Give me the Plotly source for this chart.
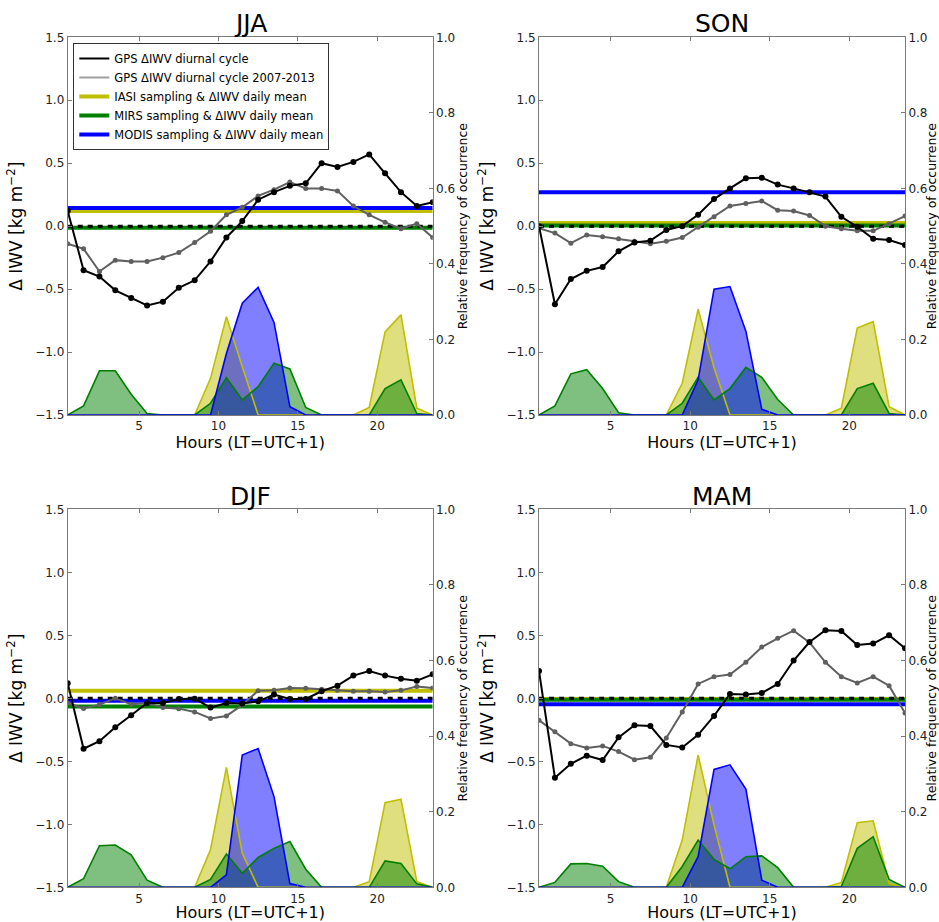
import plotly.graph_objects as go

hours = [0.5 + k for k in range(24)]
seasons = ["JJA", "SON", "DJF", "MAM"]

# GPS ΔIWV diurnal cycle (black)
gps = {
    "JJA": [0.12, -0.35, -0.40, -0.51, -0.57, -0.63, -0.60, -0.49, -0.43, -0.28, -0.09, 0.04,
            0.21, 0.27, 0.32, 0.34, 0.50, 0.47, 0.51, 0.57, 0.42, 0.27, 0.16, 0.19],
    "SON": [0.00, -0.62, -0.42, -0.355, -0.325, -0.20, -0.13, -0.115, -0.03, 0.00, 0.09, 0.215,
            0.30, 0.38, 0.385, 0.33, 0.30, 0.27, 0.235, 0.074, -0.005, -0.10, -0.11, -0.15],
    "DJF": [0.12, -0.40, -0.34, -0.23, -0.135, -0.037, -0.037, -0.005, -0.003, -0.074, -0.037, -0.042,
            -0.024, 0.03, -0.005, -0.005, 0.056, 0.10, 0.18, 0.217, 0.18, 0.156, 0.14, 0.19],
    "MAM": [0.217, -0.63, -0.52, -0.455, -0.49, -0.31, -0.214, -0.22, -0.37, -0.39, -0.29, -0.14,
            0.034, 0.03, 0.042, 0.114, 0.30, 0.447, 0.54, 0.534, 0.423, 0.434, 0.50, 0.397],
}

# GPS ΔIWV diurnal cycle 2007-2013 (gray)
gps0713 = {
    "JJA": [-0.14, -0.18, -0.36, -0.27, -0.28, -0.28, -0.25, -0.21, -0.13, -0.04, 0.09, 0.15,
            0.24, 0.29, 0.35, 0.30, 0.30, 0.28, 0.16, 0.09, 0.03, -0.02, 0.02, -0.09],
    "SON": [-0.016, -0.055, -0.135, -0.07, -0.085, -0.10, -0.12, -0.14, -0.12, -0.09, -0.008, 0.074,
            0.16, 0.18, 0.20, 0.127, 0.12, 0.085, 0.0, -0.02, -0.037, -0.037, 0.02, 0.08],
    "DJF": [-0.037, -0.08, -0.05, 0.0, -0.048, -0.037, -0.074, -0.082, -0.108, -0.16, -0.14, -0.053,
            0.06, 0.063, 0.082, 0.08, 0.071, 0.063, 0.056, 0.056, 0.05, 0.063, 0.093, 0.082],
    "MAM": [-0.175, -0.265, -0.36, -0.394, -0.378, -0.423, -0.487, -0.468, -0.315, -0.108, 0.114, 0.172,
            0.188, 0.286, 0.407, 0.476, 0.537, 0.444, 0.286, 0.172, 0.122, 0.172, 0.10, -0.116],
}

# sampling-weighted ΔIWV daily means
iasi_mean = {"JJA": 0.12, "SON": 0.025, "DJF": 0.06, "MAM": -0.005}
mirs_mean = {"JJA": -0.013, "SON": 0.005, "DJF": -0.066, "MAM": -0.012}
modis_mean = {"JJA": 0.145, "SON": 0.27, "DJF": -0.02, "MAM": -0.048}

# relative frequency of occurrence of satellite overpasses
iasi_freq = {
    "JJA": [0, 0, 0, 0, 0, 0, 0, 0, 0, 0.097, 0.26, 0.128, 0, 0, 0, 0, 0, 0, 0, 0.02, 0.22, 0.265, 0.018, 0],
    "SON": [0, 0, 0, 0, 0, 0, 0, 0, 0, 0.084, 0.28, 0.125, 0, 0, 0, 0, 0, 0, 0, 0.018, 0.23, 0.247, 0.022, 0],
    "DJF": [0, 0, 0, 0, 0, 0, 0, 0, 0, 0.10, 0.317, 0.09, 0, 0, 0, 0, 0, 0, 0, 0.015, 0.224, 0.233, 0.015, 0],
    "MAM": [0, 0, 0, 0, 0, 0, 0, 0, 0, 0.125, 0.35, 0.165, 0, 0, 0, 0, 0, 0, 0, 0.013, 0.171, 0.176, 0.01, 0],
}
mirs_freq = {
    "JJA": [0, 0.024, 0.117, 0.117, 0.055, 0.004, 0, 0, 0, 0.031, 0.099, 0.04, 0.075, 0.137, 0.122, 0.02,
            0, 0, 0, 0, 0.07, 0.093, 0.004, 0],
    "SON": [0, 0.024, 0.109, 0.12, 0.07, 0.006, 0, 0, 0, 0.031, 0.10, 0.04, 0.07, 0.126, 0.10, 0.041,
            0, 0, 0, 0, 0.07, 0.084, 0.004, 0],
    "DJF": [0, 0.023, 0.11, 0.112, 0.086, 0.019, 0, 0, 0, 0.021, 0.088, 0.037, 0.079, 0.103, 0.121, 0.048,
            0, 0, 0, 0, 0.07, 0.063, 0.009, 0],
    "MAM": [0, 0.013, 0.062, 0.063, 0.056, 0.015, 0, 0, 0, 0.055, 0.125, 0.074, 0.049, 0.081, 0.083, 0.052,
            0, 0, 0, 0.002, 0.103, 0.134, 0.021, 0],
}
modis_freq = {
    "JJA": [0, 0, 0, 0, 0, 0, 0, 0, 0, 0, 0.163, 0.296, 0.338, 0.245, 0.022, 0, 0, 0, 0, 0, 0, 0, 0, 0],
    "SON": [0, 0, 0, 0, 0, 0, 0, 0, 0, 0, 0.093, 0.333, 0.34, 0.222, 0.015, 0, 0, 0, 0, 0, 0, 0, 0, 0],
    "DJF": [0, 0, 0, 0, 0, 0, 0, 0, 0, 0, 0.033, 0.35, 0.367, 0.24, 0.01, 0, 0, 0, 0, 0, 0, 0, 0, 0],
    "MAM": [0, 0, 0, 0, 0, 0, 0, 0, 0, 0, 0.081, 0.312, 0.324, 0.26, 0.019, 0, 0, 0, 0, 0, 0, 0, 0, 0],
}

legend_labels = ["GPS \u0394IWV diurnal cycle", "GPS \u0394IWV diurnal cycle 2007-2013",
                 "IASI sampling & \u0394IWV daily mean", "MIRS sampling & \u0394IWV daily mean",
                 "MODIS sampling & \u0394IWV daily mean"]

x_range = [0.5, 23.5]
y_left_range = [-1.5, 1.5]
y_right_range = [0.0, 1.0]
x_ticks = [5, 10, 15, 20]
y_left_ticks = [-1.5, -1.0, -0.5, 0.0, 0.5, 1.0, 1.5]
y_right_ticks = [0.0, 0.2, 0.4, 0.6, 0.8, 1.0]

W, H = 939, 922
FONT = "DejaVu Sans"
YEL, GRN, BLU = "#bfbf00", "#008000", "#0000ff"
YEL_F, GRN_F, BLU_F = "rgba(191,191,0,0.5)", "rgba(0,128,0,0.5)", "rgba(0,0,255,0.5)"
FRAME = "#7a7a7a"

xdoms = [[67.7 / W, 432.7 / W], [539 / W, 905 / W], [67.7 / W, 432.7 / W], [539 / W, 905 / W]]
ydoms = [[1 - 415 / H, 1 - 37.3 / H], [1 - 415 / H, 1 - 37.3 / H],
         [1 - 887.3 / H, 1 - 509.3 / H], [1 - 887.3 / H, 1 - 509.3 / H]]

fig = go.Figure()
layout = {}
annotations = []

for i, s in enumerate(seasons):
    xa = "x" if i == 0 else f"x{i + 1}"
    yl = "y" if i == 0 else f"y{2 * i + 1}"
    yr = f"y{2 * i + 2}"
    xkey = "xaxis" if i == 0 else f"xaxis{i + 1}"
    ylkey = "yaxis" if i == 0 else f"yaxis{2 * i + 1}"
    yrkey = f"yaxis{2 * i + 2}"

    # horizontal mean lines
    for val, col in [(iasi_mean[s], YEL), (mirs_mean[s], GRN), (modis_mean[s], BLU)]:
        fig.add_trace(go.Scatter(x=x_range, y=[val[s] if isinstance(val, dict) else val] * 2,
                                 mode="lines", line=dict(color=col, width=4),
                                 xaxis=xa, yaxis=yl, showlegend=False, hoverinfo="skip"))
    fig.add_trace(go.Scatter(x=x_range, y=[0, 0], mode="lines",
                             line=dict(color="black", width=3, dash="5px,5px"),
                             xaxis=xa, yaxis=yl, showlegend=False, hoverinfo="skip"))
    fig.add_trace(go.Scatter(x=hours, y=gps0713[s], mode="lines+markers",
                             line=dict(color="#5f5f5f", width=2),
                             marker=dict(color="#5f5f5f", size=5),
                             xaxis=xa, yaxis=yl, showlegend=False))
    fig.add_trace(go.Scatter(x=hours, y=gps[s], mode="lines+markers",
                             line=dict(color="black", width=2),
                             marker=dict(color="black", size=6),
                             xaxis=xa, yaxis=yl, showlegend=False))

    # frequency fills (right axis)
    for fr, fc in [(iasi_freq[s], YEL_F), (mirs_freq[s], GRN_F), (modis_freq[s], BLU_F)]:
        fig.add_trace(go.Scatter(x=hours, y=fr, mode="lines", fill="tozeroy", fillcolor=fc,
                                 line=dict(width=0, color=fc),
                                 xaxis=xa, yaxis=yr, showlegend=False, hoverinfo="skip"))
    for fr, col in [(iasi_freq[s], YEL), (mirs_freq[s], GRN), (modis_freq[s], BLU)]:
        fig.add_trace(go.Scatter(x=hours, y=fr, mode="lines", line=dict(color=col, width=1.6),
                                 xaxis=xa, yaxis=yr, showlegend=False))

    tickfont = dict(family=FONT, size=12, color="#222")
    layout[xkey] = dict(domain=xdoms[i], anchor=yl, range=x_range, tickvals=x_ticks,
                        ticks="inside", ticklen=4, tickcolor=FRAME, showline=True,
                        linecolor=FRAME, linewidth=1, mirror="ticks", showgrid=False,
                        zeroline=False, tickfont=tickfont, automargin=False,
                        title=dict(text="Hours (LT=UTC+1)", font=dict(family=FONT, size=16, color="black"),
                                   standoff=4))
    layout[ylkey] = dict(domain=ydoms[i], anchor=xa, range=y_left_range, tickvals=y_left_ticks,
                         ticktext=[f"{v:.1f}".replace("-", "\u2212") for v in y_left_ticks],
                         ticks="inside", ticklen=4, tickcolor=FRAME, showline=True,
                         linecolor=FRAME, linewidth=1, showgrid=False, zeroline=False,
                         tickfont=tickfont, automargin=False,
                         title=dict(text="\u0394 IWV [kg m<sup>\u22122</sup>]",
                                    font=dict(family=FONT, size=17, color="black"), standoff=8))
    layout[yrkey] = dict(overlaying=yl, anchor=xa, side="right", range=y_right_range,
                         tickvals=y_right_ticks, ticktext=[f"{v:.1f}" for v in y_right_ticks],
                         ticks="inside", ticklen=4, tickcolor=FRAME, showline=True,
                         linecolor=FRAME, linewidth=1, showgrid=False, zeroline=False,
                         tickfont=tickfont, automargin=False,
                         title=dict(text="Relative frequency of occurrence",
                                    font=dict(family=FONT, size=12.5, color="black"), standoff=4))
    annotations.append(dict(text=s, x=sum(xdoms[i]) / 2, xref="paper",
                            y=1 - (24 if i < 2 else 496) / H, yref="paper",
                            xanchor="center", yanchor="middle", showarrow=False,
                            font=dict(family=FONT, size=25, color="black")))

# legend entries
leg_styles = [("black", 2), ("#a0a0a0", 2), (YEL, 4), (GRN, 4), (BLU, 4)]
for lab, (col, w) in zip(legend_labels, leg_styles):
    fig.add_trace(go.Scatter(x=[None], y=[None], mode="lines", line=dict(color=col, width=w),
                             name=lab, xaxis="x", yaxis="y", showlegend=True))

fig.update_layout(**layout)
fig.update_layout(
    width=W, height=H, template="none",
    margin=dict(l=0, r=0, t=0, b=0),
    paper_bgcolor="white", plot_bgcolor="white",
    annotations=annotations,
    showlegend=True,
    legend=dict(x=73.3 / W, y=1 - 43 / H, xanchor="left", yanchor="top",
                bordercolor="#333", borderwidth=1, bgcolor="white",
                font=dict(family=FONT, size=11.5, color="black"),
                itemwidth=30, tracegroupgap=0),
    font=dict(family=FONT),
)

fig.write_html("out.html")
